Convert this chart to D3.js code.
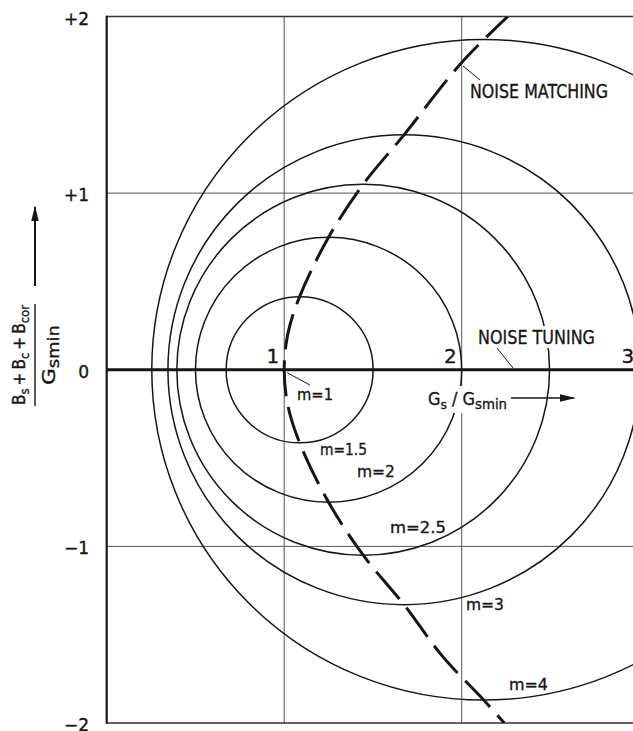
<!DOCTYPE html>
<html><head><meta charset="utf-8">
<script src="https://cdn.jsdelivr.net/npm/d3@7"></script>
<style>html,body{margin:0;padding:0;background:#fff;} svg{display:block;} text{stroke:#161616;stroke-width:0.35px;}</style>
</head><body>
<svg id="chart" width="633" height="731"></svg>
<script>
// ---- data ----
const mLabels = ["m=1.5", "m=2", "m=2.5", "m=3", "m=4"];
const circleCenters = [1.087, 1.25, 1.445, 1.675, 2.124];
const circleRadii = [0.414, 0.75, 1.05, 1.33, 1.87];
const matchX = [2.26, 2.0, 1.675, 1.445, 1.25, 1.087, 1.02, 1.0, 1.02, 1.087, 1.25, 1.445, 1.675, 1.89, 2.124, 2.24];
const matchY = [2.0, 1.74, 1.33, 1.05, 0.75, 0.414, 0.2, 0, -0.2, -0.414, -0.75, -1.05, -1.33, -1.62, -1.87, -2.0];
const xTickValues = [1, 2, 3];
const xTickLabels = ["1", "2", "3"];
const yTickValues = [2, 1, 0, -1, -2];
const yTickLabels = ["+2", "+1", "0", "\u22121", "\u22122"];
const gridX = [1, 2];
const gridY = [1, -1];

// ---- layout ----
const W = 633, H = 731;
const x = d3.scaleLinear().domain([0, 3]).range([106.7, 639.2]);
const y = d3.scaleLinear().domain([-2, 2]).range([723, 16.5]);
const FONT = "'DejaVu Sans', 'Liberation Sans', sans-serif";
const INK = "#161616";

const svg = d3.select("#chart");
svg.append("rect").attr("width", W).attr("height", H).attr("fill", "#fff");

const defs = svg.append("defs");
defs.append("clipPath").attr("id", "plot")
  .append("rect").attr("x", x(0)).attr("y", y(2)).attr("width", W - x(0)).attr("height", y(-2) - y(2));
defs.append("marker").attr("id", "arr").attr("viewBox", "0 0 10 10").attr("refX", 9).attr("refY", 5)
  .attr("markerWidth", 16).attr("markerHeight", 10).attr("markerUnits", "userSpaceOnUse").attr("orient", "auto")
  .attr("preserveAspectRatio", "none")
  .append("path").attr("d", "M0,1.2 L10,5 L0,8.8 Z").attr("fill", INK);

// grid lines
const grid = svg.append("g").attr("stroke", "#555").attr("stroke-width", 1);
grid.selectAll("line.gx").data(gridX).join("line")
  .attr("x1", d => x(d)).attr("x2", d => x(d)).attr("y1", y(2)).attr("y2", y(-2));
grid.selectAll("line.gy").data(gridY).join("line")
  .attr("x1", x(0)).attr("x2", W).attr("y1", d => y(d)).attr("y2", d => y(d));

// frame: top, bottom, left
svg.append("line").attr("x1", x(0)).attr("x2", W).attr("y1", y(2)).attr("y2", y(2)).attr("stroke", "#333").attr("stroke-width", 1.4);
svg.append("line").attr("x1", x(0)).attr("x2", W).attr("y1", y(-2)).attr("y2", y(-2)).attr("stroke", "#333").attr("stroke-width", 1.4);
svg.append("line").attr("x1", x(0)).attr("x2", x(0)).attr("y1", y(2) - 0.7).attr("y2", y(-2) + 0.7).attr("stroke", INK).attr("stroke-width", 2.2);

// noise circles
const plot = svg.append("g").attr("clip-path", "url(#plot)");
plot.selectAll("ellipse").data(circleCenters).join("ellipse")
  .attr("cx", d => x(d))
  .attr("cy", y(0))
  .attr("rx", (d, i) => x(d + circleRadii[i]) - x(d))
  .attr("ry", (d, i) => y(0) - y(circleRadii[i]))
  .attr("fill", "none").attr("stroke", INK).attr("stroke-width", 1.5);

// real axis (thick)
svg.append("line").attr("x1", x(0)).attr("x2", W).attr("y1", y(0)).attr("y2", y(0)).attr("stroke", INK).attr("stroke-width", 3);

// noise matching dashed curve
const pts = matchX.map((v, i) => [v, matchY[i]]);
plot.append("path").datum(pts)
  .attr("d", d3.line().x(d => x(d[0])).y(d => y(d[1])).curve(d3.curveCatmullRom.alpha(0.5)))
  .attr("fill", "none").attr("stroke", INK).attr("stroke-width", 3)
  .attr("stroke-dasharray", "36,11").attr("stroke-dashoffset", 6);

// white boxes behind some labels (they interrupt lines in the reference)
svg.append("rect").attr("x", 474).attr("y", 326).attr("width", 124).attr("height", 22).attr("fill", "#fff");
svg.append("rect").attr("x", 424).attr("y", 386).attr("width", 86).attr("height", 27).attr("fill", "#fff");

// y tick labels
svg.append("g").selectAll("text").data(yTickValues).join("text")
  .attr("x", 89).attr("y", d => y(d) + 8)
  .attr("text-anchor", "end").attr("font-family", FONT).attr("font-size", 17).attr("fill", INK)
  .text((d, i) => yTickLabels[i]);

// x tick labels
svg.append("g").selectAll("text").data(xTickValues).join("text")
  .attr("x", d => x(d) - 5).attr("y", y(0) - 7)
  .attr("text-anchor", "end").attr("font-family", FONT).attr("font-size", 20).attr("fill", INK)
  .text((d, i) => xTickLabels[i]);

// m labels
const mPos = [[320, 455, 47], [357, 477, 38], [390, 533, 56], [466, 610, 38], [509, 690, 39]];
svg.append("g").selectAll("text").data(mLabels).join("text")
  .attr("x", (d, i) => mPos[i][0]).attr("y", (d, i) => mPos[i][1])
  .attr("textLength", (d, i) => mPos[i][2]).attr("lengthAdjust", "spacingAndGlyphs")
  .attr("font-family", FONT).attr("font-size", 16).attr("fill", INK)
  .text(d => d);
svg.append("text").attr("x", 297).attr("y", 400).attr("textLength", 36).attr("lengthAdjust", "spacingAndGlyphs")
  .attr("font-family", FONT).attr("font-size", 16).attr("fill", INK).text("m=1");
svg.append("line").attr("x1", x(1) + 3).attr("y1", y(0) + 3).attr("x2", 310).attr("y2", 385).attr("stroke", INK).attr("stroke-width", 1);

// NOISE MATCHING / NOISE TUNING
svg.append("text").attr("x", 470).attr("y", 98).attr("textLength", 138).attr("lengthAdjust", "spacingAndGlyphs")
  .attr("font-family", FONT).attr("font-size", 19).attr("fill", INK).text("NOISE MATCHING");
svg.append("line").attr("x1", 463).attr("y1", 66).attr("x2", 480).attr("y2", 80).attr("stroke", INK).attr("stroke-width", 1);
svg.append("text").attr("x", 478).attr("y", 344).attr("textLength", 117).attr("lengthAdjust", "spacingAndGlyphs")
  .attr("font-family", FONT).attr("font-size", 19).attr("fill", INK).text("NOISE TUNING");
svg.append("line").attr("x1", 497).attr("y1", 348).attr("x2", 513).attr("y2", 368).attr("stroke", INK).attr("stroke-width", 1);

// x axis title
const xt = svg.append("text").attr("x", 428).attr("y", 405).attr("font-family", FONT).attr("font-size", 17).attr("fill", INK)
  .attr("textLength", 79).attr("lengthAdjust", "spacingAndGlyphs");
xt.append("tspan").text("G");
xt.append("tspan").attr("font-size", 13).attr("dy", 4).text("s");
xt.append("tspan").attr("dy", -4).text(" / G");
xt.append("tspan").attr("font-size", 14).attr("dy", 4).text("smin");
svg.append("line").attr("x1", 511).attr("x2", 574).attr("y1", 398).attr("y2", 398)
  .attr("stroke", INK).attr("stroke-width", 1.5).attr("marker-end", "url(#arr)");

// y axis title (rotated fraction)
const yt = svg.append("g").attr("transform", "translate(35,355) rotate(-90)");
const num = yt.append("text").attr("x", -50).attr("y", -10)
  .attr("textLength", 100).attr("lengthAdjust", "spacingAndGlyphs")
  .attr("font-family", FONT).attr("font-size", 17).attr("fill", INK);
num.append("tspan").text("B");
num.append("tspan").attr("font-size", 13).attr("dy", 4).text("s");
num.append("tspan").attr("dy", -4).text("\u2009+\u2009B");
num.append("tspan").attr("font-size", 13).attr("dy", 4).text("c");
num.append("tspan").attr("dy", -4).text("\u2009+\u2009B");
num.append("tspan").attr("font-size", 13).attr("dy", 4).text("cor");
yt.append("line").attr("x1", -51).attr("x2", 51).attr("y1", 0).attr("y2", 0).attr("stroke", INK).attr("stroke-width", 1.4);
const den = yt.append("text").attr("x", -30).attr("y", 20)
  .attr("textLength", 60).attr("lengthAdjust", "spacingAndGlyphs")
  .attr("font-family", FONT).attr("font-size", 18).attr("fill", INK);
den.append("tspan").text("G");
den.append("tspan").attr("font-size", 15).attr("dy", 4).text("smin");
svg.append("line").attr("x1", 35).attr("x2", 35).attr("y1", 286).attr("y2", 207)
  .attr("stroke", INK).attr("stroke-width", 2).attr("marker-end", "url(#arr)");
</script>
</body></html>
